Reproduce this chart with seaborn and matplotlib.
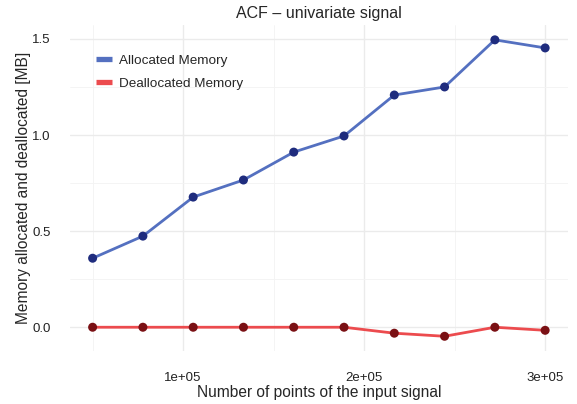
import numpy as np
import pandas as pd
import matplotlib
matplotlib.use("Agg")
import matplotlib.pyplot as plt
import seaborn as sns
from matplotlib.lines import Line2D
from matplotlib.ticker import FixedLocator

n_points = [50000, 77778, 105556, 133333, 161111, 188889, 216667, 244444, 272222, 300000]
allocated = [0.359, 0.474, 0.677, 0.766, 0.911, 0.995, 1.208, 1.250, 1.495, 1.453]
deallocated = [0.0, 0.0, 0.0, 0.0, 0.0, 0.0, -0.031, -0.047, 0.0, -0.016]
series_names = ["Allocated Memory", "Deallocated Memory"]

line_colors = {"Allocated Memory": "#5470C0", "Deallocated Memory": "#EC4B4E"}
point_colors = {"Allocated Memory": "#1F2C7E", "Deallocated Memory": "#7A1014"}

df = pd.DataFrame({
    "n": n_points * 2,
    "mem": allocated + deallocated,
    "kind": [series_names[0]] * len(n_points) + [series_names[1]] * len(n_points),
})

sns.set_theme(style="white")
plt.rcParams["font.family"] = ["Liberation Sans", "DejaVu Sans"]

fig = plt.figure(figsize=(5.77, 4.04), dpi=100)
ax = fig.add_axes([0.1213, 0.131, 0.8627, 0.807])

sns.lineplot(data=df, x="n", y="mem", hue="kind", palette=line_colors,
             linewidth=2.0, ax=ax, legend=False, zorder=3)
sns.scatterplot(data=df, x="n", y="mem", hue="kind", palette=point_colors,
                s=42, edgecolor="none", ax=ax, legend=False, zorder=4)

ax.set_xlim(37500, 312500)
ax.set_ylim(-0.124, 1.572)
ax.set_xticks([100000, 200000, 300000])
ax.set_xticklabels(["1e+05", "2e+05", "3e+05"])
ax.set_yticks([0.0, 0.5, 1.0, 1.5])
ax.set_yticklabels(["0.0", "0.5", "1.0", "1.5"])
ax.xaxis.set_minor_locator(FixedLocator([50000, 150000, 250000]))
ax.yaxis.set_minor_locator(FixedLocator([0.25, 0.75, 1.25]))

ax.grid(True, which="major", color="#EBEBEB", linewidth=1.0)
ax.grid(True, which="minor", color="#F3F3F3", linewidth=0.6)
ax.set_axisbelow(True)
for sp in ax.spines.values():
    sp.set_visible(False)
ax.tick_params(axis="both", which="both", length=0, labelsize=9.5, colors="#222222")
ax.tick_params(axis="x", pad=15)
ax.tick_params(axis="y", pad=14)

ax.set_title("ACF \u2013 univariate signal", fontsize=11.5, pad=5)
ax.set_xlabel("Number of points of the input signal", fontsize=11.2, labelpad=1)
ax.set_ylabel("Memory allocated and deallocated [MB]", fontsize=11.2, labelpad=0.5)

handles = [Line2D([0], [0], color=line_colors[k], linewidth=3.8, solid_capstyle="butt")
           for k in series_names]
ax.legend(handles, series_names, loc="upper left", bbox_to_anchor=(0.027, 0.948),
          frameon=False, fontsize=9.7, handlelength=1.2, handletextpad=0.55,
          labelspacing=0.8)

fig.savefig("out.png", dpi=100)
plt.close(fig)
